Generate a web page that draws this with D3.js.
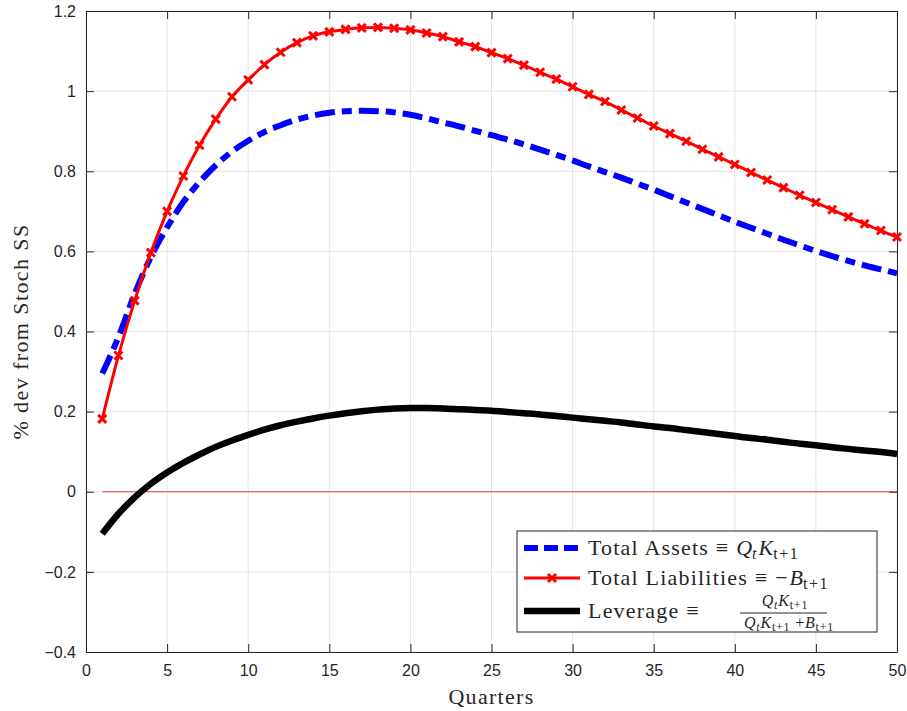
<!DOCTYPE html>
<html>
<head>
<meta charset="utf-8">
<script src="https://cdn.jsdelivr.net/npm/d3@7"></script>
<style>
  body { margin: 0; background: #fff; }
  svg { display: block; }
  .tick text { font-family: "Liberation Sans", Arial, sans-serif; font-size: 16px; fill: #262626; }
  .serif { font-family: "Liberation Serif", "DejaVu Serif", serif; fill: #262626; }
</style>
</head>
<body>
<svg id="chart"></svg>
<script>
// quarters after the shock
const quarters = [1, 2, 3, 4, 5, 6, 7, 8, 9, 10, 11, 12, 13, 14, 15, 16, 17, 18, 19, 20,
  21, 22, 23, 24, 25, 26, 27, 28, 29, 30, 31, 32, 33, 34, 35, 36, 37, 38, 39, 40,
  41, 42, 43, 44, 45, 46, 47, 48, 49, 50];

const totalAssets = [0.295, 0.386, 0.494, 0.586, 0.66, 0.723, 0.773, 0.815, 0.849, 0.876,
  0.898, 0.915, 0.929, 0.939, 0.946, 0.950, 0.951, 0.950, 0.947, 0.941,
  0.932, 0.922, 0.912, 0.901, 0.890, 0.879, 0.867, 0.854, 0.841, 0.827,
  0.812, 0.798, 0.784, 0.769, 0.754, 0.738, 0.722, 0.706, 0.690, 0.674,
  0.659, 0.644, 0.629, 0.615, 0.601, 0.588, 0.576, 0.565, 0.555, 0.545];

const totalLiabilities = [0.182, 0.34, 0.477, 0.597, 0.70, 0.788, 0.865, 0.93, 0.986, 1.028,
  1.066, 1.097, 1.121, 1.138, 1.148, 1.154, 1.158, 1.159, 1.157, 1.153,
  1.145, 1.136, 1.123, 1.111, 1.096, 1.081, 1.065, 1.047, 1.03, 1.011,
  0.992, 0.974, 0.953, 0.933, 0.913, 0.894, 0.875, 0.855, 0.836, 0.817,
  0.797, 0.778, 0.759, 0.74, 0.722, 0.704, 0.686, 0.669, 0.652, 0.636];

const leverage = [-0.105, -0.055, -0.014, 0.020, 0.048, 0.072, 0.093, 0.112, 0.128, 0.142,
  0.155, 0.166, 0.175, 0.183, 0.190, 0.196, 0.201, 0.205, 0.208, 0.209,
  0.209, 0.208, 0.206, 0.204, 0.202, 0.199, 0.196, 0.193, 0.189, 0.185,
  0.181, 0.177, 0.173, 0.168, 0.163, 0.159, 0.154, 0.149, 0.144, 0.139,
  0.134, 0.130, 0.125, 0.120, 0.116, 0.111, 0.107, 0.103, 0.099, 0.094];

const xTicks = [0, 5, 10, 15, 20, 25, 30, 35, 40, 45, 50];
const yTicks = [-0.4, -0.2, 0, 0.2, 0.4, 0.6, 0.8, 1, 1.2];

const W = 907, H = 711;
const margin = { top: 11, right: 10, bottom: 59, left: 86 };
const width = W - margin.left - margin.right;
const height = H - margin.top - margin.bottom;

const svg = d3.select("#chart").attr("width", W).attr("height", H);
const g = svg.append("g").attr("transform", `translate(${margin.left},${margin.top})`);

const x = d3.scaleLinear().domain([0, 50]).range([0, width]);
const y = d3.scaleLinear().domain([-0.4, 1.2]).range([height, 0]);

// grid
g.append("g").selectAll("line").data(xTicks).join("line")
  .attr("x1", d => x(d)).attr("x2", d => x(d)).attr("y1", 0).attr("y2", height)
  .attr("stroke", "#e5e5e5").attr("stroke-width", 1);
g.append("g").selectAll("line").data(yTicks).join("line")
  .attr("y1", d => y(d)).attr("y2", d => y(d)).attr("x1", 0).attr("x2", width)
  .attr("stroke", "#e5e5e5").attr("stroke-width", 1);

// axes (MATLAB box style, ticks inward)
const fmt = d => d3.format("~g")(d);
const axisStyle = sel => {
  sel.select(".domain").attr("stroke", "#262626");
  sel.selectAll(".tick line").attr("stroke", "#262626");
};
g.append("g").attr("transform", `translate(0,${height})`)
  .call(d3.axisBottom(x).tickValues(xTicks).tickFormat(fmt).tickSizeInner(-8).tickSizeOuter(0).tickPadding(13))
  .call(axisStyle);
g.append("g")
  .call(d3.axisLeft(y).tickValues(yTicks).tickFormat(fmt).tickSizeInner(-8).tickSizeOuter(0).tickPadding(10))
  .call(axisStyle);
g.append("g")
  .call(d3.axisTop(x).tickValues(xTicks).tickFormat("").tickSizeInner(-8).tickSizeOuter(0))
  .call(axisStyle);
g.append("g").attr("transform", `translate(${width},0)`)
  .call(d3.axisRight(y).tickValues(yTicks).tickFormat("").tickSizeInner(-8).tickSizeOuter(0))
  .call(axisStyle);

// zero reference line
g.append("line")
  .attr("x1", x(quarters[0])).attr("x2", x(quarters[quarters.length - 1]))
  .attr("y1", y(0)).attr("y2", y(0))
  .attr("stroke", "#e8393d").attr("stroke-width", 1);

const line = d3.line().x((d, i) => x(quarters[i])).y(d => y(d)).curve(d3.curveMonotoneX);

const assetDash = "20,7,10,7";

g.append("path").datum(totalAssets)
  .attr("d", line).attr("fill", "none")
  .attr("stroke", "#0000ff").attr("stroke-width", 6)
  .attr("stroke-dasharray", assetDash);

g.append("path").datum(totalLiabilities)
  .attr("d", line).attr("fill", "none")
  .attr("stroke", "#ff0000").attr("stroke-width", 3);

const xMark = "M-4,-4L4,4M-4,4L4,-4";
g.append("g").selectAll("path").data(totalLiabilities).join("path")
  .attr("transform", (d, i) => `translate(${x(quarters[i])},${y(d)})`)
  .attr("d", xMark).attr("stroke", "#ff0000").attr("stroke-width", 3).attr("fill", "none");

g.append("path").datum(leverage)
  .attr("d", line).attr("fill", "none")
  .attr("stroke", "#000").attr("stroke-width", 6.5);

// axis labels
svg.append("text").attr("class", "serif")
  .attr("x", margin.left + width / 2).attr("y", 704)
  .attr("text-anchor", "middle").style("font-size", "22px").style("letter-spacing", "1.3px")
  .text("Quarters");
svg.append("text").attr("class", "serif")
  .attr("transform", `translate(28,${margin.top + height / 2}) rotate(-90)`)
  .attr("text-anchor", "middle").style("font-size", "22px").style("letter-spacing", "1.4px")
  .text("% dev from Stoch SS");

// legend
const leg = svg.append("g").attr("transform", "translate(517,531)");
leg.append("rect").attr("width", 360).attr("height", 101)
  .attr("fill", "#fff").attr("stroke", "#262626").attr("stroke-width", 1);

const rows = [
  { y: 17, color: "#0000ff", dash: "14,6", w: 6 },
  { y: 47, color: "#ff0000", dash: null, w: 3, marker: true },
  { y: 80, color: "#000", dash: null, w: 6.5 }
];
rows.forEach(r => {
  leg.append("line").attr("x1", 7).attr("x2", 63).attr("y1", r.y).attr("y2", r.y)
    .attr("stroke", r.color).attr("stroke-width", r.w)
    .attr("stroke-dasharray", r.dash);
  if (r.marker) {
    leg.append("path").attr("transform", `translate(35,${r.y})`)
      .attr("d", xMark).attr("stroke", r.color).attr("stroke-width", 3).attr("fill", "none");
  }
});

// text pieces: plain, italic math, subscripts (dy shifts baseline)
const addMath = (sel, parts) => {
  parts.forEach(p => {
    const t = sel.append("tspan").text(p.t);
    if (p.fs) t.style("font-size", p.fs);
    if (p.i) t.style("font-style", "italic");
    if (p.ls !== undefined) t.style("letter-spacing", p.ls);
    if (p.dy) t.attr("dy", p.dy);
    if (p.dx) t.attr("dx", p.dx);
  });
};

const legText = (yy) => leg.append("text").attr("class", "serif").attr("x", 71).attr("y", yy)
  .style("font-size", "22px").style("letter-spacing", "1.2px");

const t1 = legText(24);
addMath(t1, [{ t: "Total Assets " }, { t: "≡", ls: "0px" },
  { t: "Q", i: true, ls: "0px", dx: 8 }, { t: "t", i: true, dy: 4, fs: "16px", ls: "0px" },
  { t: "K", i: true, dy: -4, fs: "22px", ls: "0px", dx: 2 }, { t: "t+1", dy: 4, fs: "16px", ls: "1.5px" }]);

const t2 = legText(54);
addMath(t2, [{ t: "Total Liabilities " }, { t: "≡", ls: "0px" },
  { t: "−", ls: "0px", dx: 8 }, { t: "B", i: true, ls: "0px", dx: 2 },
  { t: "t+1", dy: 4, fs: "16px", ls: "1.5px" }]);

const t3 = legText(87);
addMath(t3, [{ t: "Leverage " }, { t: "≡", ls: "0px" }]);

// fraction
const num = leg.append("text").attr("class", "serif").attr("x", 268).attr("y", 75)
  .attr("text-anchor", "middle").style("font-size", "16px").style("letter-spacing", "0.8px");
addMath(num, [{ t: "Q", i: true }, { t: "t", i: true, dy: 3, fs: "12px" },
  { t: "K", i: true, dy: -3, fs: "16px" }, { t: "t+1", dy: 3, fs: "12px" }]);
leg.append("line").attr("x1", 223).attr("x2", 310).attr("y1", 82).attr("y2", 82)
  .attr("stroke", "#262626").attr("stroke-width", 1);
const den = leg.append("text").attr("class", "serif").attr("x", 272).attr("y", 97)
  .attr("text-anchor", "middle").style("font-size", "16px").style("letter-spacing", "0.8px");
addMath(den, [{ t: "Q", i: true }, { t: "t", i: true, dy: 3, fs: "12px" },
  { t: "K", i: true, dy: -3, fs: "16px" }, { t: "t+1", dy: 3, fs: "12px" },
  { t: "  +", dy: -3, fs: "16px" }, { t: "B", i: true }, { t: "t+1", dy: 3, fs: "12px" }]);
</script>
</body>
</html>
